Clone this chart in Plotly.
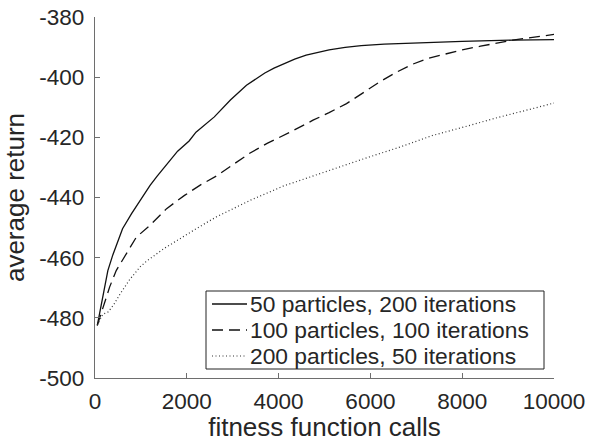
import plotly.graph_objects as go

# Average return versus number of fitness function calls for three
# particle/iteration budgets of the swarm optimiser.
calls_50p = [50, 140, 210, 280, 390, 600, 800, 1000, 1200, 1350, 1600, 1800, 2050,
             2200, 2600, 2950, 3300, 3700, 3900, 4100, 4350, 4600, 4850, 5100, 5450,
             5800, 6300, 6900, 8000, 9100, 10000]
return_50p = [-482.5, -475.2, -468.8, -464.3, -459.0, -450.4, -445.3, -440.6, -436.0,
              -433.0, -428.2, -424.6, -421.2, -418.3, -413.2, -407.6, -402.7, -398.6,
              -397.0, -395.6, -394.0, -392.7, -391.7, -390.9, -390.1, -389.5, -389.0,
              -388.6, -388.1, -387.7, -387.5]

calls_100p = [50, 210, 320, 465, 680, 900, 1200, 1560, 1950, 2300, 2650, 3000, 3380,
              3750, 4250, 4750, 5100, 5480, 5850, 6200, 6550, 6900, 7250, 7650, 8000,
              8400, 9100, 10000]
return_100p = [-482.5, -475.2, -469.7, -464.2, -458.8, -453.2, -449.2, -443.7, -439.3,
               -435.8, -432.8, -429.3, -425.2, -422.0, -418.3, -414.3, -411.8, -408.8,
               -405.2, -401.6, -398.5, -395.8, -393.8, -392.2, -390.9, -389.7, -387.7,
               -385.8]

calls_200p = [50, 170, 290, 400, 550, 620, 760, 980, 1120, 1500, 1900, 2300, 2650, 3000,
              3400, 3800, 4100, 4470, 5200, 5900, 6650, 7350, 8100, 8800, 9550, 10000]
return_200p = [-482.5, -478.8, -478.0, -475.8, -472.0, -470.3, -467.2, -463.1, -461.2,
               -457.0, -453.2, -449.5, -446.4, -443.8, -440.8, -438.2, -436.2, -434.3,
               -430.4, -426.9, -423.2, -419.4, -416.3, -413.3, -410.4, -408.6]

series_names = ["50 particles, 200 iterations",
                "100 particles, 100 iterations",
                "200 particles, 50 iterations"]

x_ticks = [0, 2000, 4000, 6000, 8000, 10000]
x_tick_labels = ["0", "2000", "4000", "6000", "8000", "10000"]
y_ticks = [-500, -480, -460, -440, -420, -400, -380]
y_tick_labels = ["-500", "-480", "-460", "-440", "-420", "-400", "-380"]

FONT = "Liberation Sans, Arial, Helvetica, sans-serif"
TEXT = "#262626"
AXIS = "#6e6e6e"
LINE_DARK = "#111111"
LINE_DOT = "#333333"

styles = [
    dict(color=LINE_DARK, width=1.3, dash="solid"),
    dict(color=LINE_DARK, width=1.3, dash="11px,6px"),
    dict(color=LINE_DOT, width=1.2, dash="1px,2.5px"),
]

W, H = 592, 442
M_L, M_R, M_T, M_B = 95, 38, 17, 64
PLOT_W = W - M_L - M_R
PLOT_H = H - M_T - M_B


def px_to_paper(px, py):
    """Convert a pixel position on the page to paper coordinates."""
    return (px - M_L) / PLOT_W, (H - M_B - py) / PLOT_H


fig = go.Figure()
for xs, ys, name, style in zip([calls_50p, calls_100p, calls_200p],
                               [return_50p, return_100p, return_200p],
                               series_names, styles):
    fig.add_trace(go.Scatter(x=xs, y=ys, mode="lines", name=name,
                             line=style, showlegend=False))

# Compact legend box in the lower right corner of the axes
box_x0, box_y0 = px_to_paper(206, 369)
box_x1, box_y1 = px_to_paper(544, 291)
shapes = [dict(type="rect", xref="paper", yref="paper",
               x0=box_x0, x1=box_x1, y0=box_y0, y1=box_y1,
               line=dict(color="#222222", width=1), fillcolor="white", layer="above")]
annotations = []
row_centres = [304, 330, 356]
for name, style, row in zip(series_names, styles, row_centres):
    sx0, sy = px_to_paper(212, row)
    sx1, _ = px_to_paper(247, row)
    shapes.append(dict(type="line", xref="paper", yref="paper",
                       x0=sx0, x1=sx1, y0=sy, y1=sy, layer="above",
                       line=dict(color=style["color"], width=style["width"],
                                 dash=style["dash"])))
    tx, _ = px_to_paper(248.5, row)
    annotations.append(dict(xref="paper", yref="paper", x=tx, y=sy,
                            xanchor="left", yanchor="middle", showarrow=False,
                            text=name, borderpad=0,
                            font=dict(family=FONT, size=22.8, color=TEXT)))

axis_common = dict(
    showgrid=False, zeroline=False, showline=True, linecolor=AXIS, linewidth=1.2,
    ticks="inside", ticklen=5, tickwidth=1, tickcolor=AXIS, automargin=False,
    tickfont=dict(family=FONT, size=22.5, color=TEXT),
)

fig.update_layout(
    width=W, height=H,
    margin=dict(l=M_L, r=M_R, t=M_T, b=M_B),
    paper_bgcolor="white", plot_bgcolor="white",
    font=dict(family=FONT, color=TEXT),
    xaxis=dict(range=[0, 10000], tickvals=x_ticks, ticktext=x_tick_labels,
               title=dict(text="fitness function calls", standoff=1,
                          font=dict(family=FONT, size=26, color=TEXT)),
               ticklabelstandoff=3, **axis_common),
    yaxis=dict(range=[-500, -380], tickvals=y_ticks, ticktext=y_tick_labels,
               title=dict(text="average return", standoff=7,
                          font=dict(family=FONT, size=26, color=TEXT)),
               ticklabelstandoff=5, **axis_common),
    shapes=shapes,
    annotations=annotations,
    showlegend=False,
)

fig.write_html("out.html")
